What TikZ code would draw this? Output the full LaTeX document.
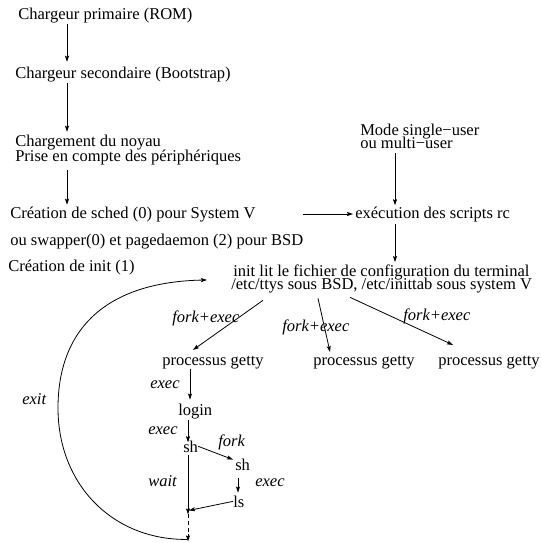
\documentclass[tikz,border=0pt]{standalone}
\usepackage{fontspec}
\setmainfont{Liberation Serif}
\usetikzlibrary{arrows.meta,calc}
\begin{document}
\begin{tikzpicture}[x=0.75pt,y=-0.75pt,
  txt/.style={inner sep=0pt, anchor=base west, font=\fontsize{12.4pt}{14pt}\selectfont},
  lbl/.style={inner sep=0pt, anchor=base west, font=\fontsize{12.4pt}{14pt}\selectfont\itshape},
  arr/.style={line width=0.6pt, -{Stealth[length=4.5pt,width=3pt,inset=0.8pt]}},
  dashline/.style={dash pattern=on 3pt off 2pt}]
\useasboundingbox (0,0) rectangle (540,543);

% text nodes
\node[txt] (rom) at (18,19) {Chargeur primaire (ROM)};
\node[txt] (sec) at (15,78) {Chargeur secondaire (Bootstrap)};
\node[txt] (noyau) at (15,146.5) {Chargement du noyau};
\node[txt] (prise) at (15,161) {Prise en compte des périphériques};
\node[txt] (sched) at (10,218) {Création de sched (0) pour System V};
\node[txt] (swap) at (10,245) {ou swapper(0) et pagedaemon (2) pour BSD};
\node[txt] (init1) at (8,271) {Création de init (1)};
\node[txt] (mode) at (360,135) {Mode single−user};
\node[txt] (multi) at (360,148.5) {ou multi−user};
\node[txt] (rc) at (355,218) {exécution des scripts rc};
\node[txt] (initlit) at (233,276) {init lit le fichier de configuration du terminal};
\node[txt] (ttys) at (231,289.5) {/etc/ttys sous BSD, /etc/inittab sous system V};
\node[txt] (g1) at (162,365) {processus getty};
\node[txt] (g2) at (313,365) {processus getty};
\node[txt] (g3) at (438,365) {processus getty};
\node[txt] (login) at (178,415) {login};
\node[txt] (sh1) at (183,452) {sh};
\node[txt] (sh2) at (235,470) {sh};
\node[txt] (ls) at (233,507) {ls};

% labels
\node[lbl] (fe1) at (172,322) {fork+exec};
\node[lbl] (fe2) at (282,331) {fork+exec};
\node[lbl] (fe3) at (403,320) {fork+exec};
\node[lbl] (ex1) at (150,388) {exec};
\node[lbl] (ex2) at (148,434) {exec};
\node[lbl] (fork) at (218,446) {fork};
\node[lbl] (wait) at (148,486) {wait};
\node[lbl] (ex3) at (255,486) {exec};
\node[lbl] (exit) at (22,404) {exit};

% connectors
\draw[arr] ($(rom.south west)+(49,1.5)$) -- ($(sec.north west)+(52,-4.5)$);
\draw[arr] ($(sec.south west)+(52,1.5)$) -- ($(noyau.north west)+(52,-3)$);
\draw[arr] ($(prise.south west)+(52,5)$) -- ($(sched.north west)+(57,-1.5)$);
\draw[arr] (swap.east |- rc.west) -- ($(rc.west)+(-2,0)$);
\draw[arr] ($(multi.south west)+(35,4.5)$) -- ($(rc.north west)+(40,-1)$);
\draw[arr] ($(rc.south west)+(40,2.5)$) -- ($(initlit.north west)+(162,-2)$);
\draw[arr] ($(ttys.south west)+(32,7)$) -- ($(g1.north west)+(31,-5.5)$);
\draw[arr] ($(ttys.south west)+(87,5)$) -- ($(g2.north west)+(17,-3.5)$);
\draw[arr] ($(ttys.south west)+(119,4)$) -- ($(g3.north west)+(15,-10.5)$);
\draw[arr] ($(g1.south west)+(28,0)$) -- ($(login.north west)+(12,-3.7)$);
\draw[arr] ($(login.south west)+(10,1.5)$) -- ($(sh1.north west)+(5,2)$);
\draw[arr] (sh1.east) -- ($(sh2.north west)+(-2,1.3)$);
\draw[arr] ($(sh2.south west)+(3,8)$) -- ($(ls.north west)+(5,-2.7)$);

\coordinate (wt) at ($(sh1.south west)+(5,62)$);
\coordinate (bt) at ($(wt)+(0,27)$);
\draw[arr] ($(sh1.south west)+(5,3)$) -- (wt);
\draw[arr] (ls.west) -- ($(wt)+(1,-4)$);
\draw[arr, dashline] (wt) -- (bt);
\draw[arr] ($(bt)+(-1,-2)$) .. controls (112,540) and (58,484) .. (58,408)
  .. controls (58,330) and (105,282) .. ($(initlit.west)+(-26,8)$);
\end{tikzpicture}
\end{document}
